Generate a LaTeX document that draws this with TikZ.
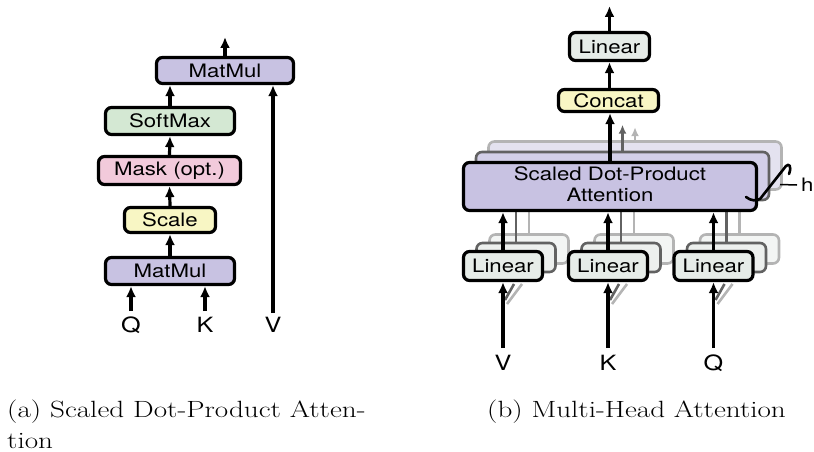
\documentclass[tikz,border=0pt]{standalone}
\usepackage{fontspec}
\usepackage{graphicx}
\setsansfont{TeX Gyre Heros}
\usetikzlibrary{arrows.meta}

\definecolor{mmpurple}{HTML}{C8C2E2}
\definecolor{smgreen}{HTML}{D4E8D3}
\definecolor{mkpink}{HTML}{F2CADB}
\definecolor{scyellow}{HTML}{F8F6C4}
\definecolor{lngray}{HTML}{E6ECE8}
\definecolor{purpleA}{HTML}{D3CFE8}
\definecolor{purpleB}{HTML}{E4E2EF}
\definecolor{lngrayA}{HTML}{EDF0EE}
\definecolor{lngrayB}{HTML}{F3F5F4}
\definecolor{edgeA}{HTML}{626262}
\definecolor{edgeB}{HTML}{B4B4B4}

% wide sans text used in the block labels
\newcommand\widetxt[1]{\scalebox{1.2}[1]{#1}}
% wide serif text used in the captions
\newcommand\widecap[1]{\scalebox{1.24}[1]{#1}}

\tikzset{
  box/.style={draw=black, line width=3.2pt, rounded corners=6pt, inner sep=0pt,
    font=\sffamily\fontsize{18.5}{21}\selectfont},
  layerA/.style={box, draw=edgeA, line width=2.6pt},
  layerB/.style={box, draw=edgeB, line width=2.6pt},
  arr/.style={line width=3.2pt, -{Latex[length=11pt,width=10pt]}},
  arrA/.style={line width=2.6pt, draw=edgeA, -{Latex[length=9pt,width=8pt]}},
  arrB/.style={line width=2.6pt, draw=edgeB, -{Latex[length=9pt,width=8pt]}},
  lineA/.style={line width=2.6pt, draw=edgeA},
  lineB/.style={line width=2.6pt, draw=edgeB},
  inlabel/.style={inner sep=0pt, font=\sffamily\fontsize{21}{24}\selectfont},
  caption/.style={inner sep=0pt, anchor=base west, font=\fontsize{23.5}{28}\selectfont},
}

\begin{document}
\begin{tikzpicture}[x=1pt, y=-1pt]
\useasboundingbox (0,0) rectangle (814,452);

% ---------------- (a) scaled dot-product attention ----------------
\node[box, fill=mmpurple, minimum width=137pt, minimum height=26pt] (mmtop) at (225,70.5) {\widetxt{MatMul}};
\node[box, fill=smgreen,  minimum width=129pt, minimum height=27pt] (soft)  at (170,121)  {\widetxt{SoftMax}};
\node[box, fill=mkpink,   minimum width=142pt, minimum height=28pt] (mask)  at (169.5,170.5) {\widetxt{Mask (opt.)}};
\node[box, fill=scyellow, minimum width=91pt,  minimum height=25pt] (scale) at (170,220)  {\widetxt{Scale}};
\node[box, fill=mmpurple, minimum width=129pt, minimum height=27pt] (mmbot) at (170,271)  {\widetxt{MatMul}};

\node[inlabel] (qa) at (131,325) {\widetxt{Q}};
\node[inlabel] (ka) at (205,325) {\widetxt{K}};
\node[inlabel] (va) at (273,325) {\widetxt{V}};
\coordinate (qain) at (131,311);
\coordinate (kain) at (205,311);
\coordinate (vain) at (273,313);
\coordinate (aout) at (225,37);

\draw[arr] (qain) -- (qain |- mmbot.south);
\draw[arr] (kain) -- (kain |- mmbot.south);
\draw[arr] (vain) -- (vain |- mmtop.south);
\draw[arr] (mmbot.north) -- (scale.south);
\draw[arr] (scale.north) -- (mask.south);
\draw[arr] (mask.north) -- (soft.south);
\draw[arr] (soft.north) -- (soft.north |- mmtop.south);
\draw[arr] (mmtop.north) -- (aout);

% ---------------- (b) multi-head attention ----------------
% stacked copies behind the attention block
\node[layerB, fill=purpleB, minimum width=293pt, minimum height=48pt] (sdpaB) at (635,165.5) {};
\draw[arrB] (sdpaB.north) -- ++(0,-13);
\node[layerA, fill=purpleA, minimum width=293pt, minimum height=48pt] (sdpaA) at (622.5,176) {};
\draw[arrA] (sdpaA.north) -- ++(0,-26);

% stacked copies behind the three linear projections
\foreach \n/\x in {v/503, k/608, q/713.5} {
  \node[layerB, fill=lngrayB, minimum width=79pt, minimum height=29pt] (lin\n B) at (\x+26,249) {};
  \draw[lineB] (lin\n B.north) -- (lin\n B.north |- sdpaB.south);
  \draw[lineB] (\x+4,304) -- (\x+19,284);
}
\foreach \n/\x in {v/503, k/608, q/713.5} {
  \node[layerA, fill=lngrayA, minimum width=79pt, minimum height=29pt] (lin\n A) at (\x+13,257.5) {};
  \draw[lineA] (lin\n A.north) -- (lin\n A.north |- sdpaA.south);
  \draw[lineA] (\x+2,300) -- (\x+11,284);
}

% front layer
\node[box, fill=mmpurple, minimum width=293pt, minimum height=48pt, align=center] (sdpa) at (610,186.5)
  {\widetxt{\begin{tabular}{@{}c@{}}Scaled Dot-Product\\Attention\end{tabular}}};
\node[box, fill=scyellow, minimum width=100pt, minimum height=22pt] (concat) at (608.5,100.5) {\widetxt{Concat}};
\node[box, fill=lngray, minimum width=80pt, minimum height=28pt] (lintop) at (609.5,46.5) {\widetxt{Linear}};
\coordinate (bout) at (609.5,6);

\node[box, fill=lngray, minimum width=79pt, minimum height=29pt] (linv) at (503,266)   {\widetxt{Linear}};
\node[box, fill=lngray, minimum width=79pt, minimum height=29pt] (link) at (608,266)   {\widetxt{Linear}};
\node[box, fill=lngray, minimum width=79pt, minimum height=29pt] (linq) at (713.5,266) {\widetxt{Linear}};

\node[inlabel] (vb) at (503,363)   {\widetxt{V}};
\node[inlabel] (kb) at (608,363)   {\widetxt{K}};
\node[inlabel] (qb) at (713.5,363) {\widetxt{Q}};
\coordinate (vbin) at (503,348);
\coordinate (kbin) at (608,348);
\coordinate (qbin) at (713.5,348);

\draw[arr] (vbin) -- (vbin |- linv.south);
\draw[arr] (kbin) -- (kbin |- link.south);
\draw[arr] (qbin) -- (qbin |- linq.south);
\draw[arr] (linv.north) -- (linv.north |- sdpa.south);
\draw[arr] (link.north) -- (link.north |- sdpa.south);
\draw[arr] (linq.north) -- (linq.north |- sdpa.south);
\draw[arr] (sdpa.north) -- (sdpa.north |- concat.south);
\draw[arr] (concat.north) -- (concat.north -| lintop.south) -- (lintop.south);
\draw[arr] (lintop.north) -- (bout);

% head-count brace and label
\draw[line width=2.6pt, line cap=round, line join=round]
  (746,197) .. controls (751,201) and (756,201) .. (760,199)
  -- (786,166) .. controls (789,163) and (792,166) .. (789,174);
\coordinate (htick) at (780,184.5);
\node[inlabel, anchor=west, font=\sffamily\fontsize{18.5}{21}\selectfont] (hlab) at (801,185) {\widetxt{h}};
\draw[line width=1.5pt] (htick) -- ([xshift=-4pt]hlab.west);

% ---------------- captions ----------------
\node[caption] (capa) at (7,417) {\widecap{\makebox[289pt][s]{(a) Scaled Dot-Product Atten-}}};
\node[caption] (capa2) at (7,448) {\widecap{tion}};
\node[caption] (capb) at (487,417) {\widecap{(b) Multi-Head Attention}};
\end{tikzpicture}
\end{document}
